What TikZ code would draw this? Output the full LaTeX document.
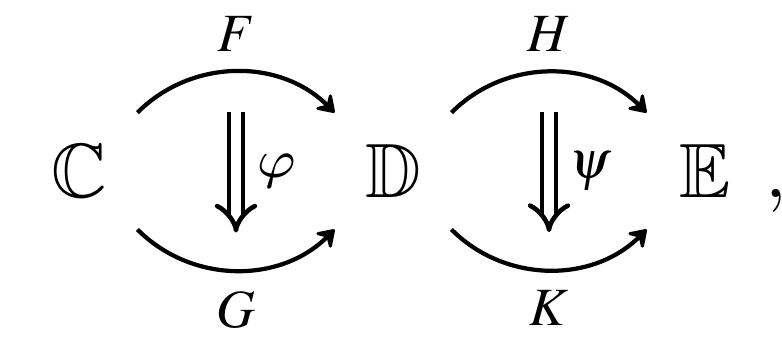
\documentclass[tikz,border=0pt]{standalone}
\usepackage{amsmath}
\usepackage{mathptmx}
\usepackage{amssymb}
\usetikzlibrary{arrows.meta,positioning,cd}

\DeclareSymbolFont{cmletters}{OML}{cmm}{m}{it}
\DeclareMathSymbol{\lmvarphi}{\mathord}{cmletters}{"27}

\begin{document}
\begin{tikzpicture}[
    x=0.13pt, y=0.13pt,
    obj/.style={rectangle, minimum size=14.8pt, inner sep=0pt},
    lab/.style={font=\scriptsize, inner sep=2.4pt},
    arrow/.style={-{Stealth[length=2.7pt, width=3.6pt, inset=1.1pt, round]}, line width=0.55pt},
    twocell/.style={-{cm implies[scale=1.2]}, double, double distance=1.25pt, line width=0.6pt, shorten <=5.2pt, shorten >=4.9pt}
]
\useasboundingbox (0,0) rectangle (782,343);

% objects
\node[obj] (C) at (79,172) {$\mathbb{C}$};
\node[obj] (D) at (393,172) {$\mathbb{D}$};
\node[obj] (E) at (705,172) {$\mathbb{E}$};
\node[anchor=base west, inner sep=0pt] (comma) at (E.base east) {$,$};

% C to D
\draw[arrow] (C) to[bend left=45] coordinate[pos=0.5] (Ftop) node[lab, midway, above] {$F$} (D);
\draw[arrow] (C) to[bend right=45] coordinate[pos=0.5] (Gbot) node[lab, midway, below] {$G$} (D);
\draw[twocell] (Ftop) -- (Gbot) node[lab, midway, right] {$\lmvarphi$};

% D to E
\draw[arrow] (D) to[bend left=45] coordinate[pos=0.5] (Htop) node[lab, midway, above] {$H$} (E);
\draw[arrow] (D) to[bend right=45] coordinate[pos=0.5] (Kbot) node[lab, midway, below] {$K$} (E);
\draw[twocell] (Htop) -- (Kbot) node[lab, midway, right] {$\psi$};

\end{tikzpicture}
\end{document}
